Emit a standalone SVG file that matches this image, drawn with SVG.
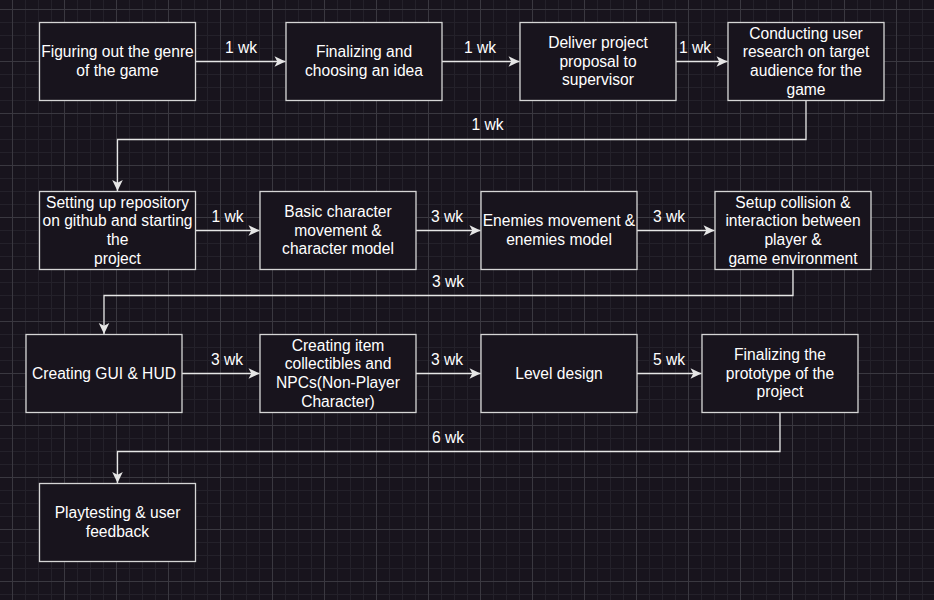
<svg xmlns="http://www.w3.org/2000/svg" width="934" height="600" viewBox="0 0 934 600">
<style>
.box{fill:#18141d;stroke:#d6d6d6;stroke-width:1.3}
.t{font-family:"Liberation Sans",Arial,Helvetica,sans-serif;font-size:15.6px;fill:#ffffff;text-anchor:middle}
.edge{fill:none;stroke:#e6e6e6;stroke-width:1.3}
</style>
<defs>
<pattern id="minor" width="13" height="13" x="12" y="9" patternUnits="userSpaceOnUse">
<path d="M0.5 0V13M0 0.5H13" stroke="#24212a" stroke-width="1" fill="none"/>
</pattern>
<pattern id="major" width="52" height="52" x="12" y="9" patternUnits="userSpaceOnUse">
<path d="M0.5 0V52M0 0.5H52" stroke="#3a3840" stroke-width="1" fill="none"/>
</pattern>
<marker id="arr" markerWidth="12" markerHeight="12" viewBox="-12 -6 12 12" refX="0" refY="0" orient="auto" markerUnits="userSpaceOnUse">
<path d="M0 0L-11 -5.3L-8.2 0L-11 5.3Z" fill="#e6e6e6"/>
</marker>
</defs>
<rect width="934" height="600" fill="#18141d"/>
<rect width="934" height="600" fill="url(#minor)"/>
<rect width="934" height="600" fill="url(#major)"/>

<g id="connectors">
<path class="edge" d="M195.5 61.5H285.5" marker-end="url(#arr)"/>
<path class="edge" d="M442 61.5H519.5" marker-end="url(#arr)"/>
<path class="edge" d="M676 61.5H727.5" marker-end="url(#arr)"/>
<path class="edge" d="M806 100.5V139.5H117.5V191" marker-end="url(#arr)"/>
<path class="edge" d="M195.5 230.5H259.5" marker-end="url(#arr)"/>
<path class="edge" d="M416 230.5H480.5" marker-end="url(#arr)"/>
<path class="edge" d="M637 230.5H714.5" marker-end="url(#arr)"/>
<path class="edge" d="M793 269.5V295.5H104V334" marker-end="url(#arr)"/>
<path class="edge" d="M182 373.5H259.5" marker-end="url(#arr)"/>
<path class="edge" d="M416 373.5H480.5" marker-end="url(#arr)"/>
<path class="edge" d="M637 373.5H701.5" marker-end="url(#arr)"/>
<path class="edge" d="M780 412.5V451.5H117.5V483" marker-end="url(#arr)"/>
<text class="t" x="241" y="53">1 wk</text>
<text class="t" x="480" y="53">1 wk</text>
<text class="t" x="695" y="53">1 wk</text>
<text class="t" x="487.5" y="130">1 wk</text>
<text class="t" x="227.5" y="222">1 wk</text>
<text class="t" x="447" y="222">3 wk</text>
<text class="t" x="669" y="222">3 wk</text>
<text class="t" x="448" y="286.5">3 wk</text>
<text class="t" x="227" y="365">3 wk</text>
<text class="t" x="447" y="365">3 wk</text>
<text class="t" x="669" y="365">5 wk</text>
<text class="t" x="448" y="442.5">6 wk</text>
</g>

<g id="n1"><rect class="box" x="39.5" y="22.5" width="156" height="78"/>
<text class="t" x="117.5"><tspan x="117.5" y="57.2">Figuring out the genre</tspan><tspan x="117.5" y="75.9">of the game</tspan></text></g>
<g id="n2"><rect class="box" x="286" y="22.5" width="156" height="78"/>
<text class="t"><tspan x="364" y="57.2">Finalizing and</tspan><tspan x="364" y="75.9">choosing an idea</tspan></text></g>
<g id="n3"><rect class="box" x="520" y="22.5" width="156" height="78"/>
<text class="t"><tspan x="598" y="47.8">Deliver project</tspan><tspan x="598" y="66.5">proposal to</tspan><tspan x="598" y="85.2">supervisor</tspan></text></g>
<g id="n4"><rect class="box" x="728" y="22.5" width="156" height="78"/>
<text class="t"><tspan x="806" y="38.5">Conducting user</tspan><tspan x="806" y="57.2">research on target</tspan><tspan x="806" y="75.9">audience for the</tspan><tspan x="806" y="94.6">game</tspan></text></g>

<g id="n5"><rect class="box" x="39.5" y="191.5" width="156" height="78"/>
<text class="t"><tspan x="117.5" y="207.5">Setting up repository</tspan><tspan x="117.5" y="226.2">on github and starting</tspan><tspan x="117.5" y="244.9">the</tspan><tspan x="117.5" y="263.6">project</tspan></text></g>
<g id="n6"><rect class="box" x="260" y="191.5" width="156" height="78"/>
<text class="t"><tspan x="338" y="216.8">Basic character</tspan><tspan x="338" y="235.5">movement &amp;</tspan><tspan x="338" y="254.2">character model</tspan></text></g>
<g id="n7"><rect class="box" x="481" y="191.5" width="156" height="78"/>
<text class="t"><tspan x="559" y="226.2">Enemies movement &amp;</tspan><tspan x="559" y="244.9">enemies model</tspan></text></g>
<g id="n8"><rect class="box" x="715" y="191.5" width="156" height="78"/>
<text class="t"><tspan x="793" y="207.5">Setup collision &amp;</tspan><tspan x="793" y="226.2">interaction between</tspan><tspan x="793" y="244.9">player &amp;</tspan><tspan x="793" y="263.6">game environment</tspan></text></g>

<g id="n9"><rect class="box" x="26" y="334.5" width="156" height="78"/>
<text class="t"><tspan x="104" y="378.5">Creating GUI &amp; HUD</tspan></text></g>
<g id="n10"><rect class="box" x="260" y="334.5" width="156" height="78"/>
<text class="t"><tspan x="338" y="350.5">Creating item</tspan><tspan x="338" y="369.2">collectibles and</tspan><tspan x="338" y="387.9">NPCs(Non-Player</tspan><tspan x="338" y="406.6">Character)</tspan></text></g>
<g id="n11"><rect class="box" x="481" y="334.5" width="156" height="78"/>
<text class="t"><tspan x="559" y="378.5">Level design</tspan></text></g>
<g id="n12"><rect class="box" x="702" y="334.5" width="156" height="78"/>
<text class="t"><tspan x="780" y="359.8">Finalizing the</tspan><tspan x="780" y="378.5">prototype of the</tspan><tspan x="780" y="397.2">project</tspan></text></g>

<g id="n13"><rect class="box" x="39.5" y="483.5" width="156" height="78"/>
<text class="t"><tspan x="117.5" y="518.2">Playtesting &amp; user</tspan><tspan x="117.5" y="536.9">feedback</tspan></text></g>
</svg>
